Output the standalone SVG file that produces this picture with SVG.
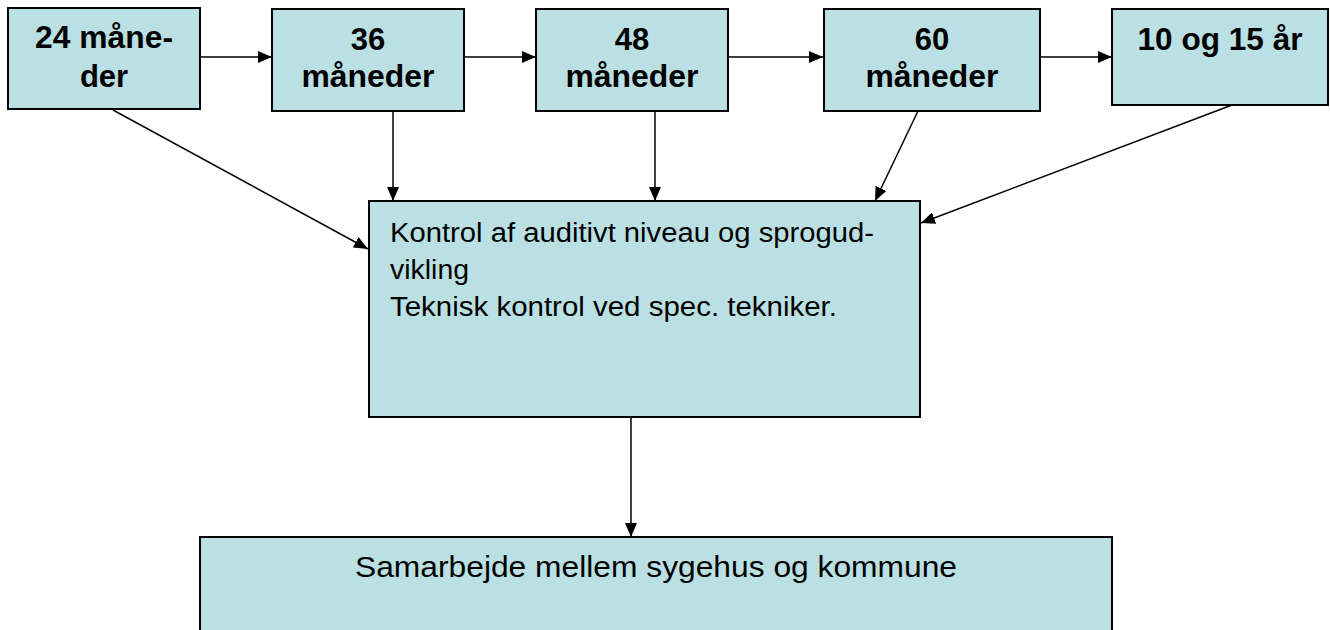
<svg xmlns="http://www.w3.org/2000/svg" width="1330" height="630" viewBox="0 0 1330 630">
<style>
.box{fill:#bbe0e3;stroke:#000;stroke-width:2}
.b{font-family:"Liberation Sans",Arial,sans-serif;font-weight:bold;font-size:31px;text-anchor:middle;fill:#000}
.n{font-family:"Liberation Sans",Arial,sans-serif;font-size:27px;fill:#000}
.m{font-family:"Liberation Sans",Arial,sans-serif;font-size:30px;fill:#000}
.c{stroke:#000;stroke-width:1.5;fill:none;marker-end:url(#ah)}
</style>
<defs>
<marker id="ah" markerWidth="14" markerHeight="12" refX="14" refY="6" orient="auto" markerUnits="userSpaceOnUse">
<path d="M0,0 L14,6 L0,12 Z" fill="#000"/>
</marker>
</defs>
<rect width="1330" height="630" fill="#fff"/>
<g id="connectors">
<line class="c" x1="200" y1="57" x2="272" y2="57"/>
<line class="c" x1="464" y1="57" x2="536" y2="57"/>
<line class="c" x1="728" y1="57" x2="823" y2="57"/>
<line class="c" x1="1040" y1="57" x2="1112" y2="57"/>
<line class="c" x1="113" y1="110" x2="368" y2="249"/>
<line class="c" x1="393" y1="111" x2="393" y2="201"/>
<line class="c" x1="655" y1="111" x2="655" y2="201"/>
<line class="c" x1="918" y1="111" x2="875" y2="201"/>
<line class="c" x1="1232" y1="105" x2="921" y2="223"/>
<line class="c" x1="631" y1="417" x2="631" y2="537"/>
</g>
<g id="n24">
<rect class="box" x="8" y="8" width="192" height="101"/>
<text class="b" x="104" y="48" textLength="138" lengthAdjust="spacingAndGlyphs">24 måne-</text>
<text class="b" x="104" y="87">der</text>
</g>
<g id="n36">
<rect class="box" x="272" y="9" width="192" height="102"/>
<text class="b" x="368" y="50">36</text>
<text class="b" x="368" y="87" textLength="133" lengthAdjust="spacingAndGlyphs">måneder</text>
</g>
<g id="n48">
<rect class="box" x="536" y="9" width="192" height="102"/>
<text class="b" x="632" y="50">48</text>
<text class="b" x="632" y="87" textLength="133" lengthAdjust="spacingAndGlyphs">måneder</text>
</g>
<g id="n60">
<rect class="box" x="824" y="9" width="216" height="102"/>
<text class="b" x="932" y="50">60</text>
<text class="b" x="932" y="87" textLength="133" lengthAdjust="spacingAndGlyphs">måneder</text>
</g>
<g id="n10">
<rect class="box" x="1112" y="9" width="216" height="96"/>
<text class="b" x="1220" y="50" textLength="165" lengthAdjust="spacingAndGlyphs">10 og 15 år</text>
</g>
<g id="kontrol">
<rect class="box" x="369" y="201" width="551" height="216"/>
<text class="n" x="390" y="242" textLength="484" lengthAdjust="spacingAndGlyphs">Kontrol af auditivt niveau og sprogud-</text>
<text class="n" x="390" y="279" textLength="79" lengthAdjust="spacingAndGlyphs">vikling</text>
<text class="n" x="390" y="316" textLength="447" lengthAdjust="spacingAndGlyphs">Teknisk kontrol ved spec. tekniker.</text>
</g>
<g id="samarbejde">
<rect class="box" x="200" y="537" width="912" height="110"/>
<text class="m" x="355" y="577" textLength="602" lengthAdjust="spacingAndGlyphs">Samarbejde mellem sygehus og kommune</text>
</g>
</svg>
